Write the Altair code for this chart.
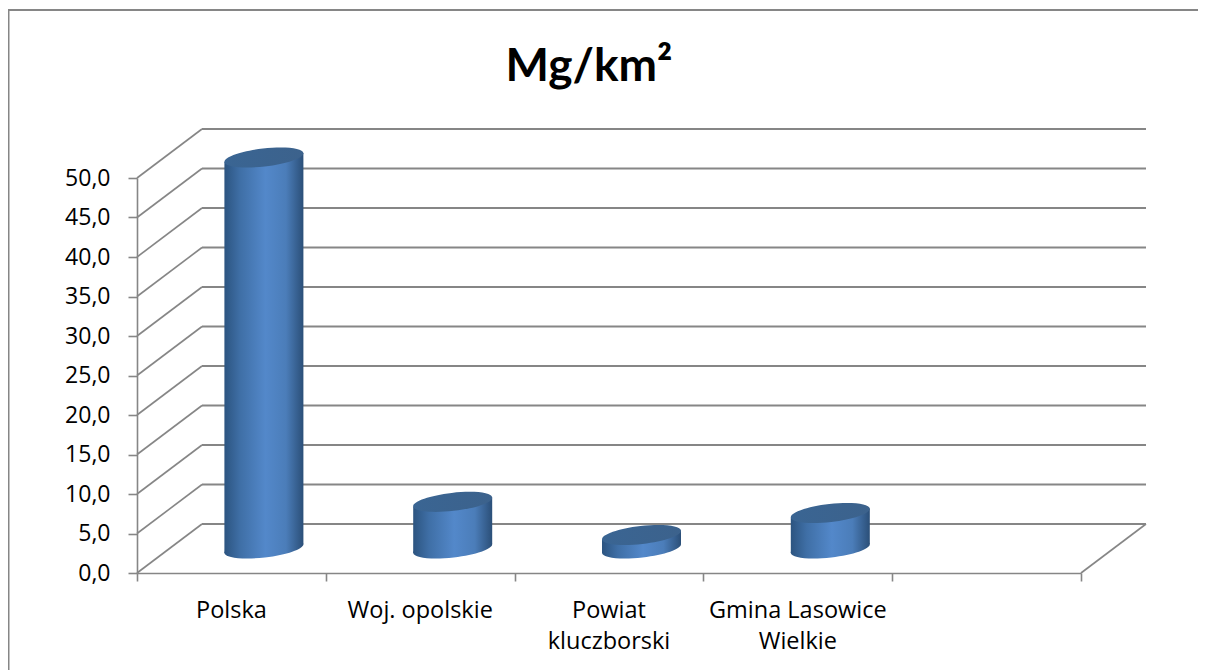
import altair as alt
import pandas as pd

categories = ["Polska", "Woj. opolskie", "Powiat\nkluczborski", "Gmina Lasowice\nWielkie"]
values = [49.5, 5.9, 1.7, 4.5]
y_ticks = [0, 5, 10, 15, 20, 25, 30, 35, 40, 45, 50]
x_ticks = [0, 1, 2, 3, 4, 5]

LINE = "#868686"
FONT = "Open Sans"
DEPTH_X = 65 / 188.8
DEPTH_Y = 49 / 7.9
HALF = 39.5 / 188.8
TILT = 4.5 / 7.9
ELLIPSE = "M-1,0.114A1.006,0.228,-6.5,1,1,1,-0.114A1.006,0.228,-6.5,1,1,-1,0.114Z"

x_scale = alt.Scale(domain=[0, 5], range=[0, 944], nice=False, zero=False)
y_scale = alt.Scale(domain=[0, 50], range=[395, 0], nice=False, zero=False)
X = lambda f: alt.X(f, type="quantitative", scale=x_scale, axis=None)
Y = lambda f: alt.Y(f, type="quantitative", scale=y_scale, axis=None)

stops = [("#2c5480", 0), ("#3f6fa6", 0.2), ("#5388ca", 0.52), ("#4b7db9", 0.78), ("#2b4f78", 1)]
body_fill = alt.LinearGradient(
    gradient="linear", x1=0, x2=1, y1=0, y2=0,
    stops=[alt.GradientStop(color=c, offset=o) for c, o in stops],
)
top_fill = alt.LinearGradient(
    gradient="linear", x1=0, x2=1, y1=0, y2=0,
    stops=[alt.GradientStop(color="#3a6593", offset=0), alt.GradientStop(color="#3c628c", offset=1)],
)

grid_df = pd.DataFrame({"v": y_ticks})
grid_df["x0"] = DEPTH_X
grid_df["x1"] = 5 + DEPTH_X
grid_df["yb"] = grid_df["v"] + DEPTH_Y

back = alt.Chart(grid_df).mark_rule(color=LINE, strokeWidth=2, clip=False).encode(
    x=X("x0"), x2="x1", y=Y("yb"))

diag_df = pd.DataFrame({"xa": [0.0] * len(y_ticks) + [5.0], "ya": y_ticks + [0]})
diag_df["xb"] = diag_df["xa"] + DEPTH_X
diag_df["yb"] = diag_df["ya"] + DEPTH_Y
diag = alt.Chart(diag_df).mark_rule(color=LINE, strokeWidth=1.6, clip=False).encode(
    x=X("xa"), x2="xb", y=Y("ya"), y2="yb")

axes_df = pd.DataFrame({"x": [0, 5], "y": [0, 50]})
axes = alt.Chart(axes_df).mark_point(opacity=0).encode(
    x=alt.X("x:Q", scale=x_scale, title=None, axis=alt.Axis(
        values=x_ticks, labels=False, grid=False, tickSize=8, tickWidth=1.6, tickColor=LINE,
        domainColor=LINE, domainWidth=1.6, title=None)),
    y=alt.Y("y:Q", scale=y_scale, title=None, axis=alt.Axis(
        values=y_ticks, grid=False, tickSize=9, tickWidth=1.6, tickColor=LINE,
        domainColor=LINE, domainWidth=1.6, labelPadding=18, labelFont=FONT, labelFontSize=23,
        labelColor="#000000", labelExpr="replace(format(datum.value, '.1f'), '.', ',')", title=None)),
)

label_df = pd.DataFrame({"cat": categories, "x": [i + 0.5 for i in range(len(categories))]})
labels = alt.Chart(label_df).mark_text(
    font=FONT, fontSize=23.5, color="#000000", lineBreak="\n", lineHeight=31, baseline="middle", clip=False
).encode(x=X("x"), y=alt.value(433), text="cat:N")

rows = []
for i, (c, v) in enumerate(zip(categories, values)):
    cx = i + 0.5 + DEPTH_X / 2
    base = DEPTH_Y / 2
    rows.append({"cat": c, "x": cx - HALF, "top": v + base - TILT, "bot": base - TILT})
    rows.append({"cat": c, "x": cx + HALF, "top": v + base + TILT, "bot": base + TILT})
body_df = pd.DataFrame(rows)
body = alt.Chart(body_df).mark_area(fill=body_fill, clip=False, interpolate="linear", orient="vertical").encode(
    x=X("x"), y=Y("top"), y2="bot", detail="cat:N")

cap_df = pd.DataFrame({
    "x": [i + 0.5 + DEPTH_X / 2 for i in range(len(values))],
    "top": [v + DEPTH_Y / 2 for v in values],
    "bot": [DEPTH_Y / 2] * len(values),
})
SIZE = 79 * 79
bottom = alt.Chart(cap_df).mark_point(
    shape=ELLIPSE, size=SIZE, filled=True, fill=body_fill, opacity=1, strokeWidth=0, clip=False
).encode(x=X("x"), y=Y("bot"))
top = alt.Chart(cap_df).mark_point(
    shape=ELLIPSE, size=SIZE, filled=True, fill=top_fill, opacity=1, strokeWidth=0, clip=False
).encode(x=X("x"), y=Y("top"))

border_left = alt.Chart(pd.DataFrame({"k": [0]})).mark_rule(color=LINE, strokeWidth=2, clip=False).encode(
    x=alt.value(-128.5), y=alt.value(-168), y2=alt.value(492))
border_top = alt.Chart(pd.DataFrame({"k": [0]})).mark_rule(color=LINE, strokeWidth=2, clip=False).encode(
    x=alt.value(-129), x2=alt.value(1061), y=alt.value(-168))

chart = alt.layer(
    axes, border_left, border_top, back, diag, labels, body, bottom, top
).resolve_axis(x="independent", y="independent").properties(
    width=944, height=395,
    padding={"left": 129, "top": 170, "right": 117, "bottom": 97},
    autosize=alt.AutoSizeParams(type="none"),
    background="#ffffff",
    title=alt.TitleParams("Mg/km²", font="Lato", fontSize=46, fontWeight="bold", color="#000000",
                          anchor="middle", frame="group", dx=-20, offset=-82),
).configure_view(strokeWidth=0)

chart.save("out.html", embed_options={"renderer": "svg", "actions": False})
